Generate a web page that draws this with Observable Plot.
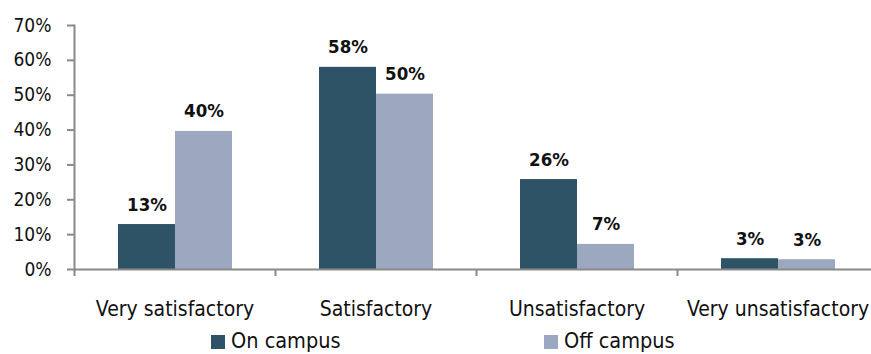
<!DOCTYPE html>
<html>
<head>
<meta charset="utf-8">
<script src="https://cdn.jsdelivr.net/npm/d3@7"></script>
<script src="https://cdn.jsdelivr.net/npm/@observablehq/plot@0.6"></script>
<style>
  html, body { margin: 0; padding: 0; background: #fff; }
  #wrap { position: relative; width: 871px; height: 354px; overflow: hidden; }
  #legend { position: absolute; left: 0; top: 329px; width: 871px; height: 26px;
    font-family: "DejaVu Sans Condensed", "Liberation Sans Narrow", sans-serif;
    font-size: 21.5px; color: #111; line-height: 24px; }
  .item { position: absolute; top: 0; display: flex; align-items: center; }
  .sw { width: 14px; height: 14px; margin-right: 6px; margin-top: 2px; }
</style>
</head>
<body>
<div id="wrap">
  <div id="chart"></div>
  <div id="legend"></div>
</div>
<script>
const categories = ["Very satisfactory", "Satisfactory", "Unsatisfactory", "Very unsatisfactory"];
const series = ["On campus", "Off campus"];
const onLabels = ["13%", "58%", "26%", "3%"];
const offLabels = ["40%", "50%", "7%", "3%"];
const onHeights = [0.129, 0.58, 0.258, 0.031];
const offHeights = [0.396, 0.503, 0.072, 0.028];
const colors = ["#2e5266", "#9ba8c0"];
const yTicks = [0, 0.1, 0.2, 0.3, 0.4, 0.5, 0.6, 0.7];

const onData = categories.map((c, i) => ({category: c, value: onHeights[i], label: onLabels[i]}));
const offData = categories.map((c, i) => ({category: c, value: offHeights[i], label: offLabels[i]}));

const font = '"DejaVu Sans Condensed", "Liberation Sans Narrow", sans-serif';
const axisColor = "#898989";

const chart = Plot.plot({
  width: 871,
  height: 354,
  marginLeft: 74,
  marginRight: -7,
  marginTop: 25,
  marginBottom: 85,
  style: {fontFamily: font, background: "#fff", color: "#111", overflow: "hidden"},
  x: {domain: categories, paddingInner: 0, paddingOuter: 0, axis: null},
  y: {domain: [0, 0.7], axis: null},
  marks: [
    Plot.barY(onData, {x: "category", y: "value", fill: colors[0], insetLeft: 44, insetRight: 100}),
    Plot.barY(offData, {x: "category", y: "value", fill: colors[1], insetLeft: 101, insetRight: 43}),
    Plot.text(onData, {x: "category", y: "value", text: "label", dx: -28, dy: -14, lineAnchor: "bottom", fontSize: 18.5, fontWeight: "bold", fill: "#111"}),
    Plot.text(offData, {x: "category", y: "value", text: "label", dx: 29, dy: -14, lineAnchor: "bottom", fontSize: 18.5, fontWeight: "bold", fill: "#111"}),
    Plot.ruleY([0], {stroke: axisColor, strokeWidth: 2}),
    Plot.frame({anchor: "left", stroke: axisColor, strokeWidth: 2}),
    Plot.ruleX(categories, {x: d => d, dx: -100.5, y1: 0, y2: 0, insetBottom: -7, stroke: axisColor, strokeWidth: 2}),
    Plot.axisY({ticks: yTicks, tickFormat: d3.format(".0%"), tickSize: 7, tickPadding: 16, fontSize: 19, stroke: axisColor, strokeWidth: 2, fill: "#111", label: null}),
    Plot.axisX({tickSize: 0, tickPadding: 32, fontSize: 21, fill: "#111", label: null})
  ]
});
document.getElementById("chart").appendChild(chart);

const legend = document.getElementById("legend");
const lefts = [211, 544];
series.forEach((s, i) => {
  const item = document.createElement("div");
  item.className = "item";
  item.style.left = lefts[i] + "px";
  item.innerHTML = `<span class="sw" style="background:${colors[i]}"></span><span>${s}</span>`;
  legend.appendChild(item);
});
</script>
</body>
</html>
